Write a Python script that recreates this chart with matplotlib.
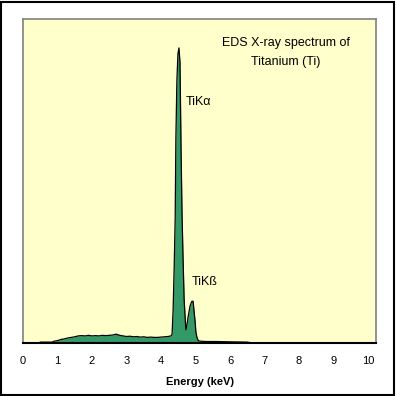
import matplotlib
matplotlib.use("Agg")
import matplotlib.pyplot as plt
from matplotlib.patches import Rectangle

# EDS spectrum of titanium (intensity relative to TiKa peak)
energia = [0.0, 0.45, 0.5, 0.85, 0.9, 1.0, 1.1, 1.2, 1.3, 1.4, 1.5, 1.6, 1.7, 1.8,
           1.9, 2.0, 2.1, 2.2, 2.3, 2.4, 2.5, 2.6, 2.7, 2.75, 2.8, 2.9, 3.0, 3.1,
           3.2, 3.3, 3.4, 3.5, 3.6, 3.7, 3.8, 3.9, 4.0, 4.1, 4.2, 4.29, 4.32,
           4.35, 4.38, 4.41, 4.43, 4.46, 4.49, 4.52, 4.55, 4.58, 4.61, 4.64,
           4.67, 4.70, 4.72, 4.75, 4.78, 4.81, 4.84, 4.87, 4.90, 4.93, 4.96,
           4.99, 5.01, 5.04, 5.07, 5.10, 5.16, 5.3, 5.6, 6.0, 6.5, 6.6, 7.0,
           7.5, 8.0, 8.5, 9.0, 9.5, 10.23]
intensidad = [0.0, 0.0, 0.003, 0.003, 0.006, 0.008, 0.012, 0.014, 0.017, 0.019,
              0.021, 0.024, 0.025, 0.024, 0.026, 0.024, 0.025, 0.024, 0.026,
              0.025, 0.026, 0.027, 0.030, 0.028, 0.026, 0.024, 0.022, 0.023,
              0.021, 0.022, 0.020, 0.021, 0.019, 0.020, 0.019, 0.019, 0.020,
              0.021, 0.022, 0.024, 0.030, 0.11, 0.25, 0.42, 0.69, 0.89, 0.98,
              1.0, 0.95, 0.66, 0.43, 0.28, 0.146, 0.085, 0.045, 0.06, 0.085,
              0.105, 0.125, 0.135, 0.142, 0.141, 0.105, 0.07, 0.037, 0.02,
              0.01, 0.007, 0.006, 0.005, 0.005, 0.004, 0.003, 0.001, 0.001,
              0.001, 0.001, 0.001, 0.001, 0.001, 0.001]

titulo = "EDS X-ray spectrum of\nTitanium (Ti)"
etiquetas_picos = ["TiK\u03b1", "TiK\u00df"]
posiciones_picos = [(4.72, 0.817), (4.90, 0.207)]
ticks_x = list(range(0, 11))

plt.rcParams['font.family'] = ['Liberation Sans', 'DejaVu Sans']

fig = plt.figure(figsize=(3.96, 3.96), dpi=100)
fig.patch.set_facecolor('white')
ax = fig.add_axes([23/396, 53/396, 353/396, 324/396])
ax.set_facecolor('#FFFFCC')

ax.fill_between(energia, intensidad, 0, color='#339966', linewidth=0)
ax.plot(energia, intensidad, color='black', linewidth=0.9)

ax.set_xlim(0, 10.23)
ax.set_ylim(0, 1.098)
ax.set_xticks(ticks_x)
ax.set_xticklabels([str(t) for t in ticks_x], fontsize=8)
ax.tick_params(axis='x', length=0, pad=9)
ax.set_yticks([])
ax.set_xlabel('Energy (keV)', fontsize=8, fontweight='bold', labelpad=8)

for lado in ['left', 'top', 'right']:
    ax.spines[lado].set_color('#808080')
    ax.spines[lado].set_linewidth(1.2)
ax.spines['bottom'].set_color('black')
ax.spines['bottom'].set_linewidth(1.5)

ax.text(7.62, 0.985, titulo, ha='center', va='center', fontsize=9,
        linespacing=1.75)
for texto, (px, py) in zip(etiquetas_picos, posiciones_picos):
    ax.text(px, py, texto, ha='left', va='center', fontsize=9)

# marco negro exterior
fig.add_artist(Rectangle((0.002, 0.002), 0.994, 0.994, transform=fig.transFigure,
                         fill=False, edgecolor='black', linewidth=1.5))

fig.savefig('out.png', dpi=100)
